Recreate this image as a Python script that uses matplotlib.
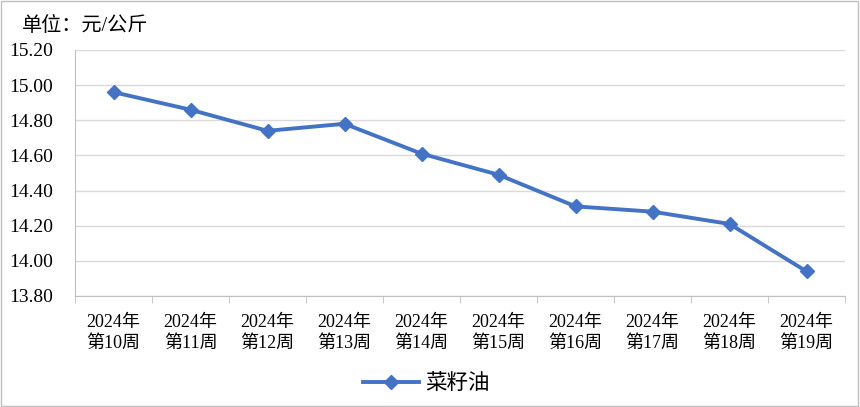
import matplotlib
matplotlib.use('Agg')
from matplotlib import pyplot as plt
from matplotlib.patches import Rectangle

plt.rcParams['font.family'] = ['Liberation Serif', 'Noto Sans CJK SC', 'DejaVu Sans']
plt.rcParams['axes.unicode_minus'] = False

# 数据
weeks = ['2024年\n第10周', '2024年\n第11周', '2024年\n第12周', '2024年\n第13周', '2024年\n第14周',
         '2024年\n第15周', '2024年\n第16周', '2024年\n第17周', '2024年\n第18周', '2024年\n第19周']
prices = [14.96, 14.86, 14.74, 14.78, 14.61, 14.49, 14.31, 14.28, 14.21, 13.94]
y_ticks = [13.80, 14.00, 14.20, 14.40, 14.60, 14.80, 15.00, 15.20]

line_color = '#4472C4'
grid_color = '#D9D9D9'
axis_color = '#BFBFBF'

fig = plt.figure(figsize=(8.6, 4.07), dpi=100)
ax = fig.add_axes([75 / 860, 1 - 296 / 407, 770 / 860, 246 / 407])

x = list(range(len(weeks)))
ax.plot(x, prices, color=line_color, linewidth=2.8, marker='D', markersize=7,
        markerfacecolor=line_color, markeredgecolor=line_color, label='菜籽油', zorder=3)

ax.set_xlim(-0.5, len(weeks) - 0.5)
ax.set_ylim(y_ticks[0], y_ticks[-1])
ax.set_yticks(y_ticks)
ax.set_yticklabels([f'{v:.2f}' for v in y_ticks], fontsize=14)
ax.tick_params(axis='y', length=0, pad=16)
ax.yaxis.grid(True, color=grid_color, linewidth=1)
ax.set_axisbelow(True)

# 类别标签放在中间，刻度线放在类别之间
ax.set_xticks(x)
ax.set_xticklabels(weeks, fontsize=13, linespacing=1.3)
ax.tick_params(axis='x', length=0, pad=13)
ax.set_xticks([i - 0.5 for i in range(len(weeks) + 1)], minor=True)
ax.tick_params(axis='x', which='minor', length=5, color=axis_color, direction='out')

for side in ['top', 'right']:
    ax.spines[side].set_visible(False)
ax.spines['left'].set_color(axis_color)
ax.spines['bottom'].set_color(axis_color)

fig.text(22 / 860, 1 - 26 / 407, '单位：元/公斤', fontsize=14.5, ha='left', va='center')

fig.legend(loc='center', bbox_to_anchor=(426 / 860, 1 - 384 / 407), frameon=False,
           fontsize=15.5, handlelength=2.6, handletextpad=0.3)

# 外框
fig.add_artist(Rectangle((0.001, 0.002), 0.997, 0.995, transform=fig.transFigure,
                         fill=False, edgecolor='#BFBFBF', linewidth=1))

plt.savefig('out.png', dpi=100)
